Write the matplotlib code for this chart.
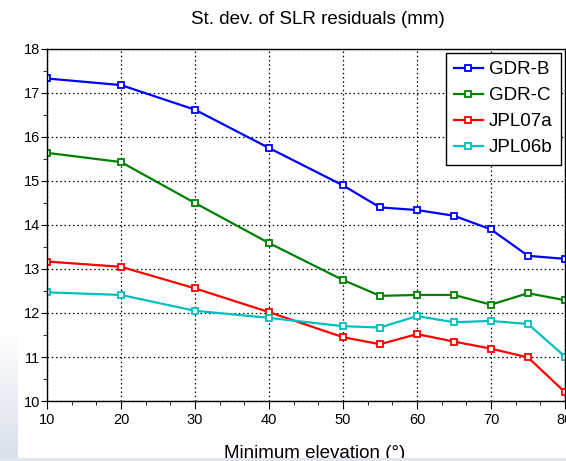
import numpy as np
import matplotlib
matplotlib.use("Agg")
import matplotlib.pyplot as plt
from matplotlib.colors import LinearSegmentedColormap
from matplotlib.ticker import MultipleLocator

plt.rcParams['font.family'] = ['Liberation Sans', 'DejaVu Sans']

# --- DATA ---
elev = [10, 20, 30, 40, 50, 55, 60, 65, 70, 75, 80]
gdr_b = [17.33, 17.18, 16.62, 15.75, 14.90, 14.40, 14.34, 14.21, 13.90, 13.30, 13.23]
gdr_c = [15.64, 15.43, 14.50, 13.59, 12.75, 12.39, 12.41, 12.41, 12.19, 12.45, 12.29]
jpl07a = [13.17, 13.05, 12.56, 12.02, 11.45, 11.29, 11.52, 11.35, 11.19, 10.99, 10.20]
jpl06b = [12.47, 12.41, 12.05, 11.89, 11.70, 11.67, 11.93, 11.79, 11.82, 11.75, 11.01]

series = [
    ("GDR-B", gdr_b, "#0000ff"),
    ("GDR-C", gdr_c, "#008000"),
    ("JPL07a", jpl07a, "#ff0000"),
    ("JPL06b", jpl06b, "#00bfbf"),
]

W, H = 566, 461
fig = plt.figure(figsize=(W / 100, H / 100), dpi=100)
fig.patch.set_facecolor('white')

# slide background showing at the lower left and along the bottom
grad = np.linspace(0, 1, 64).reshape(-1, 1)
bg = fig.add_axes([0, 0, 18 / W, 134 / H], zorder=-5)
bg.imshow(grad, aspect='auto', origin='lower', extent=[0, 1, 0, 1],
          cmap=LinearSegmentedColormap.from_list('bgc', ['#d8dfeb', '#ffffff']))
bg.axis('off')
fig.patches.append(plt.Rectangle((0, 0), 1, 3 / H, transform=fig.transFigure,
                                 facecolor='#dfe6f0', edgecolor='none', zorder=10))

ax = fig.add_axes([47 / W, 1 - 401 / H, (565 - 47) / W, (401 - 49) / H])

for name, vals, col in series:
    ax.plot(elev, vals, color=col, linewidth=1.6, marker='s', markersize=4.4,
            markerfacecolor='white', markeredgecolor=col, markeredgewidth=1.3,
            label=name)

ax.set_xlim(10, 80)
ax.set_ylim(10, 18)
ax.xaxis.set_major_locator(MultipleLocator(10))
ax.xaxis.set_minor_locator(MultipleLocator(10 / 3))
ax.yaxis.set_major_locator(MultipleLocator(1))
ax.yaxis.set_minor_locator(MultipleLocator(0.5))

ax.grid(True, which='major', color='black', linestyle=(0, (1.2, 2.2)), linewidth=0.9)
ax.tick_params(axis='both', which='both', direction='out', labelsize=10.5, color='black')
ax.tick_params(axis='x', which='major', length=5.5, pad=3)
ax.tick_params(axis='x', which='minor', length=3)
ax.tick_params(axis='y', which='major', length=4, pad=1)
ax.tick_params(axis='y', which='minor', length=3)
for s in ax.spines.values():
    s.set_linewidth(1.0)

leg = ax.legend(loc='upper right', fontsize=13.5, frameon=True, fancybox=False,
                edgecolor='black', framealpha=1, borderaxespad=0.2,
                handlelength=1.5, handletextpad=0.35, labelspacing=0.47,
                borderpad=0.45)
leg.get_frame().set_linewidth(1.0)

fig.text(318 / W, 1 - 19 / H, "St. dev. of SLR residuals (mm)", ha='center',
         va='center', fontsize=13.5)
fig.text(315 / W, 1 - 453 / H, "Minimum elevation (°)", ha='center',
         va='center', fontsize=13.5)

fig.savefig("out.png", dpi=100)
